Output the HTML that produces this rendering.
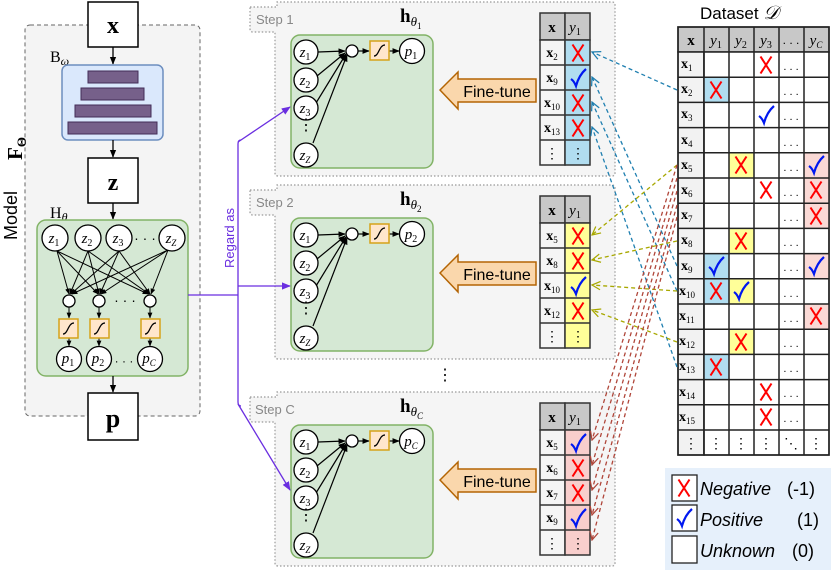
<!DOCTYPE html>
<html><head><meta charset="utf-8"><style>
html,body{margin:0;padding:0;background:#fff;}
svg{display:block;font-family:"Liberation Sans",sans-serif;}
.m{font-family:"Liberation Serif",serif;font-style:italic;}
.b{font-family:"Liberation Serif",serif;font-weight:bold;}
</style></head><body>
<svg width="831" height="570" viewBox="0 0 831 570" xmlns="http://www.w3.org/2000/svg">
<defs>
<marker id="ah" viewBox="0 0 10 10" refX="9" refY="5" markerWidth="6" markerHeight="6" orient="auto"><path d="M0,1 L10,5 L0,9 Z" fill="#000"/></marker>
<marker id="ap" viewBox="0 0 10 10" refX="9" refY="5" markerWidth="7" markerHeight="7" orient="auto"><path d="M0,1 L10,5 L0,9 Z" fill="#6a2ee0"/></marker>
<marker id="ob" viewBox="0 0 10 10" refX="9" refY="5" markerWidth="8" markerHeight="8" orient="auto"><path d="M1,1 L9,5 L1,9" fill="none" stroke="#1f7fb0" stroke-width="1.2"/></marker>
<marker id="oy" viewBox="0 0 10 10" refX="9" refY="5" markerWidth="8" markerHeight="8" orient="auto"><path d="M1,1 L9,5 L1,9" fill="none" stroke="#a8a800" stroke-width="1.2"/></marker>
<marker id="or" viewBox="0 0 10 10" refX="9" refY="5" markerWidth="8" markerHeight="8" orient="auto"><path d="M1,1 L9,5 L1,9" fill="none" stroke="#b0463a" stroke-width="1.2"/></marker>
<symbol id="X" viewBox="-8 -10 16 20" overflow="visible"><path d="M-5.5,-8.5 Q0,0 5.5,8.5 M5.5,-8.5 Q0,0 -5.5,8.5" stroke="#f00" stroke-width="2" fill="none"/></symbol>
<symbol id="V" viewBox="-8 -10 16 20" overflow="visible"><path d="M-7,1 Q-4,3 -2,8 Q1,-3 8,-9" stroke="#0018f0" stroke-width="2.2" fill="none"/></symbol>
<g id="sig"><rect x="0" y="0" width="19" height="19" fill="#ffe6cc" stroke="#d6a21a" stroke-width="1.5"/><path d="M4,15 C9,15 9,4 15,4" stroke="#000" stroke-width="1.3" fill="none"/></g>
<g id="net">
<rect x="291" y="35" width="142" height="133" rx="9" fill="#d5e8d4" stroke="#82b366" stroke-width="1.5"/>
<g stroke="#000" stroke-width="1.2" fill="none">
<line x1="318" y1="52" x2="345" y2="51" marker-end="url(#ah)"/>
<line x1="317" y1="76" x2="345" y2="53" marker-end="url(#ah)"/>
<line x1="316" y1="103" x2="346" y2="54" marker-end="url(#ah)"/>
<line x1="313" y1="143" x2="347" y2="55" marker-end="url(#ah)"/>
<line x1="358" y1="51" x2="369" y2="51" marker-end="url(#ah)"/>
<line x1="389" y1="51" x2="399" y2="51" marker-end="url(#ah)"/>
</g>
<g fill="#fff" stroke="#000" stroke-width="1.3">
<circle cx="306" cy="52" r="12"/><circle cx="306" cy="80" r="12"/><circle cx="306" cy="108" r="12"/><circle cx="306" cy="155" r="12"/>
<circle cx="352" cy="51" r="6"/><circle cx="412" cy="51" r="12.5"/>
</g>
<use href="#sig" x="370" y="41"/>
<g class="m" font-size="15" text-anchor="middle">
<text x="305" y="57">z<tspan font-size="10" font-style="normal" dy="3">1</tspan></text>
<text x="305" y="85">z<tspan font-size="10" font-style="normal" dy="3">2</tspan></text>
<text x="305" y="113">z<tspan font-size="10" font-style="normal" dy="3">3</tspan></text>
<text x="305" y="160">z<tspan font-size="9" dy="3">Z</tspan></text>
</g>
<text x="306" y="130" font-size="16" text-anchor="middle">⋮</text>
<path d="M440,90 L458,72 L458,79 L536,79 L536,102 L458,102 L458,109 Z" fill="#fad7ac" stroke="#b46504" stroke-width="1.5"/>
<text x="497" y="97" font-size="16" text-anchor="middle">Fine-tune</text>
<rect x="540" y="13" width="25" height="27" fill="#c8c8c8" stroke="#333" stroke-width="1.5"/>
<rect x="565" y="13" width="25" height="27" fill="#c8c8c8" stroke="#333" stroke-width="1.5"/>
<text x="552" y="32" class="b" font-size="15" text-anchor="middle">x</text>
<text x="575" y="32" class="m" font-size="15" text-anchor="middle">y<tspan font-size="10" font-style="normal" dy="3">1</tspan></text>
</g>
<g id="stepbox">
<path d="M250,7 L277,7 L277,2 L612,2 Q615,2 615,5 L615,173 Q615,176 612,176 L278,176 Q275,176 275,173 L275,32 L253,32 Q250,32 250,29 Z" fill="#f5f5f5" stroke="#999" stroke-width="1.2" stroke-dasharray="1.5,2"/>
</g>
</defs>

<!-- Left panel -->
<rect x="25" y="25" width="175" height="391" rx="5" fill="#f4f4f4" stroke="#666" stroke-width="1" stroke-dasharray="4,3"/>
<text transform="translate(17,240) rotate(-90)" font-size="18">Model</text>
<text transform="translate(22,160) rotate(-90)" class="b" font-size="21">F<tspan font-size="13" dy="4">Θ</tspan></text>
<rect x="88" y="2" width="50" height="45" fill="#fff" stroke="#000" stroke-width="1.5"/>
<text x="113" y="33" class="b" font-size="24" text-anchor="middle">x</text>
<line x1="113" y1="47" x2="113" y2="64" stroke="#000" stroke-width="1.3" marker-end="url(#ah)"/>
<text x="50" y="62" font-family="Liberation Serif,serif" font-size="16">B<tspan class="m" font-size="12" dy="3">ω</tspan></text>
<rect x="62" y="65" width="101" height="75" rx="6" fill="#dae8fc" stroke="#6c8ebf" stroke-width="1.5"/>
<g fill="#76608a" stroke="#432d57" stroke-width="1">
<rect x="88" y="71" width="50" height="12"/><rect x="81" y="88" width="63" height="12"/><rect x="75" y="105" width="76" height="12"/><rect x="68" y="122" width="89" height="12"/>
</g>
<line x1="113" y1="140" x2="113" y2="157" stroke="#000" stroke-width="1.3" marker-end="url(#ah)"/>
<rect x="88" y="158" width="50" height="45" fill="#fff" stroke="#000" stroke-width="1.5"/>
<text x="113" y="190" class="b" font-size="24" text-anchor="middle">z</text>
<line x1="113" y1="203" x2="113" y2="219" stroke="#000" stroke-width="1.3" marker-end="url(#ah)"/>
<text x="50" y="218" font-family="Liberation Serif,serif" font-size="16">H<tspan class="m" font-size="12" dy="3">θ</tspan></text>
<rect x="37" y="220" width="151" height="156" rx="9" fill="#d5e8d4" stroke="#82b366" stroke-width="1.5"/>
<g stroke="#000" stroke-width="1" fill="none">
<line x1="57" y1="251" x2="69" y2="294" marker-end="url(#ah)"/><line x1="57" y1="251" x2="98" y2="294" marker-end="url(#ah)"/><line x1="57" y1="251" x2="148" y2="294" marker-end="url(#ah)"/>
<line x1="88" y1="251" x2="70" y2="294" marker-end="url(#ah)"/><line x1="88" y1="251" x2="99" y2="294" marker-end="url(#ah)"/><line x1="88" y1="251" x2="149" y2="294" marker-end="url(#ah)"/>
<line x1="119" y1="251" x2="71" y2="294" marker-end="url(#ah)"/><line x1="119" y1="251" x2="100" y2="294" marker-end="url(#ah)"/><line x1="119" y1="251" x2="150" y2="294" marker-end="url(#ah)"/>
<line x1="168" y1="250" x2="72" y2="294" marker-end="url(#ah)"/><line x1="168" y1="250" x2="101" y2="294" marker-end="url(#ah)"/><line x1="168" y1="250" x2="151" y2="294" marker-end="url(#ah)"/>
<line x1="69" y1="307" x2="69" y2="318" marker-end="url(#ah)"/><line x1="99" y1="307" x2="99" y2="318" marker-end="url(#ah)"/><line x1="150" y1="307" x2="150" y2="318" marker-end="url(#ah)"/>
<line x1="69" y1="336" x2="69" y2="346" marker-end="url(#ah)"/><line x1="99" y1="336" x2="99" y2="346" marker-end="url(#ah)"/><line x1="150" y1="336" x2="150" y2="346" marker-end="url(#ah)"/>
</g>
<g fill="#fff" stroke="#000" stroke-width="1.3">
<circle cx="55" cy="238" r="13"/><circle cx="88" cy="238" r="13"/><circle cx="119" cy="238" r="13"/><circle cx="172" cy="238" r="13"/>
<circle cx="69" cy="301" r="6"/><circle cx="99" cy="301" r="6"/><circle cx="150" cy="301" r="6"/>
<circle cx="69" cy="359" r="12.5"/><circle cx="99" cy="359" r="12.5"/><circle cx="150" cy="359" r="12.5"/>
</g>
<use href="#sig" x="59" y="319"/><use href="#sig" x="90" y="319"/><use href="#sig" x="141" y="319"/>
<g class="m" font-size="15" text-anchor="middle">
<text x="54" y="243">z<tspan font-size="10" font-style="normal" dy="3">1</tspan></text>
<text x="87" y="243">z<tspan font-size="10" font-style="normal" dy="3">2</tspan></text>
<text x="118" y="243">z<tspan font-size="10" font-style="normal" dy="3">3</tspan></text>
<text x="171" y="243">z<tspan font-size="9" dy="3">Z</tspan></text>
<text x="68" y="363">p<tspan font-size="10" font-style="normal" dy="3">1</tspan></text>
<text x="98" y="363">p<tspan font-size="10" font-style="normal" dy="3">2</tspan></text>
<text x="149" y="363">p<tspan font-size="9" dy="3">C</tspan></text>
</g>
<text x="145" y="243" font-size="14" text-anchor="middle">· · ·</text>
<text x="125" y="305" font-size="14" text-anchor="middle">· · ·</text>
<text x="124" y="365" font-size="12" text-anchor="middle">· · ·</text>
<line x1="113" y1="376" x2="113" y2="392" stroke="#000" stroke-width="1.3" marker-end="url(#ah)"/>
<rect x="88" y="393" width="50" height="47" fill="#fff" stroke="#000" stroke-width="1.5"/>
<text x="113" y="427" class="b" font-size="26" text-anchor="middle">p</text>

<!-- Steps -->
<use href="#stepbox"/>
<use href="#stepbox" y="183"/>
<use href="#stepbox" y="390"/>
<g font-size="13" fill="#888"><text x="256" y="24">Step 1</text><text x="256" y="207">Step 2</text><text x="255" y="414">Step C</text></g>
<use href="#net"/><use href="#net" y="183"/><use href="#net" y="390"/>

<!-- purple connector -->
<g stroke="#6a2ee0" stroke-width="1.3" fill="none">
<line x1="188" y1="295" x2="238" y2="295"/>
<path d="M241,140 Q238,140 238,144 L238,402 Q238,406 241,406"/>
<line x1="238" y1="142" x2="290" y2="107" marker-end="url(#ap)"/>
<line x1="238" y1="286" x2="290" y2="286" marker-end="url(#ap)"/>
<line x1="238" y1="404" x2="290" y2="490" marker-end="url(#ap)"/>
</g>
<text transform="translate(234,268) rotate(-90)" font-size="13" fill="#6a2ee0">Regard as</text>

<g font-family="Liberation Serif,serif" font-size="19" font-weight="bold">
<text x="400" y="22">h<tspan class="m" font-weight="normal" font-size="13" dy="4">θ</tspan><tspan font-size="9" font-weight="normal" dy="3">1</tspan></text>
<text x="400" y="205">h<tspan class="m" font-weight="normal" font-size="13" dy="4">θ</tspan><tspan font-size="9" font-weight="normal" dy="3">2</tspan></text>
<text x="400" y="412">h<tspan class="m" font-weight="normal" font-size="13" dy="4">θ</tspan><tspan class="m" font-size="9" font-weight="normal" dy="3">C</tspan></text>
</g>
<g class="m" font-size="15" text-anchor="middle">
<text x="411" y="56">p<tspan font-size="10" font-style="normal" dy="3">1</tspan></text>
<text x="411" y="239">p<tspan font-size="10" font-style="normal" dy="3">2</tspan></text>
<text x="411" y="446">p<tspan font-size="9" dy="3">C</tspan></text>
</g>
<text x="445" y="380" font-size="16" text-anchor="middle">⋮</text>

<!-- step tables rows -->
<g stroke="#333" stroke-width="1.5">
<g fill="#f5f5f5"><rect x="540" y="40" width="25" height="125"/><rect x="540" y="223" width="25" height="125"/><rect x="540" y="430" width="25" height="125"/></g>
<rect x="565" y="40" width="25" height="125" fill="#b1ddf0"/>
<rect x="565" y="223" width="25" height="125" fill="#ffff99"/>
<rect x="565" y="430" width="25" height="125" fill="#f8cecc"/>
<path d="M540,65H590M540,90H590M540,115H590M540,140H590 M540,248H590M540,273H590M540,298H590M540,323H590 M540,455H590M540,480H590M540,505H590M540,530H590" fill="none"/>
</g>
<g class="b" font-size="14" text-anchor="middle">
<text x="552" y="57">x<tspan font-size="9" font-weight="normal" dy="3">2</tspan></text>
<text x="552" y="82">x<tspan font-size="9" font-weight="normal" dy="3">9</tspan></text>
<text x="552" y="107">x<tspan font-size="9" font-weight="normal" dy="3">10</tspan></text>
<text x="552" y="132">x<tspan font-size="9" font-weight="normal" dy="3">13</tspan></text>
<text x="552" y="240">x<tspan font-size="9" font-weight="normal" dy="3">5</tspan></text>
<text x="552" y="265">x<tspan font-size="9" font-weight="normal" dy="3">8</tspan></text>
<text x="552" y="290">x<tspan font-size="9" font-weight="normal" dy="3">10</tspan></text>
<text x="552" y="315">x<tspan font-size="9" font-weight="normal" dy="3">12</tspan></text>
<text x="552" y="447">x<tspan font-size="9" font-weight="normal" dy="3">5</tspan></text>
<text x="552" y="472">x<tspan font-size="9" font-weight="normal" dy="3">6</tspan></text>
<text x="552" y="497">x<tspan font-size="9" font-weight="normal" dy="3">7</tspan></text>
<text x="552" y="522">x<tspan font-size="9" font-weight="normal" dy="3">9</tspan></text>
</g>
<g font-size="14" text-anchor="middle"><text x="552" y="158">⋮</text><text x="578" y="158">⋮</text><text x="552" y="341">⋮</text><text x="578" y="341">⋮</text><text x="552" y="548">⋮</text><text x="578" y="548">⋮</text></g>
<use href="#X" x="570" y="43" width="16" height="20"/><use href="#V" x="570" y="68" width="16" height="20"/><use href="#X" x="570" y="93" width="16" height="20"/><use href="#X" x="570" y="118" width="16" height="20"/>
<use href="#X" x="570" y="226" width="16" height="20"/><use href="#X" x="570" y="251" width="16" height="20"/><use href="#V" x="570" y="276" width="16" height="20"/><use href="#X" x="570" y="301" width="16" height="20"/>
<use href="#V" x="570" y="433" width="16" height="20"/><use href="#X" x="570" y="458" width="16" height="20"/><use href="#X" x="570" y="483" width="16" height="20"/><use href="#V" x="570" y="508" width="16" height="20"/>

<!-- Dataset -->
<text x="700" y="19" font-size="17">Dataset <tspan font-family="Liberation Serif,serif" font-style="italic" font-size="19">𝒟</tspan></text>
<g stroke="#222" stroke-width="1.5">
<rect x="678" y="27" width="151" height="25" fill="#c8c8c8"/>
<rect x="678" y="52" width="26" height="403" fill="#f2f2f2"/>
<rect x="704" y="52" width="125" height="403" fill="#fff"/>
</g>
<g stroke="none">
<rect x="704" y="77.2" width="25" height="25.2" fill="#b1ddf0"/>
<rect x="704" y="253.6" width="25" height="50.4" fill="#b1ddf0"/>
<rect x="704" y="354.4" width="25" height="25.2" fill="#b1ddf0"/>
<rect x="729" y="152.8" width="25" height="25.2" fill="#ffff99"/>
<rect x="729" y="228.4" width="25" height="25.2" fill="#ffff99"/>
<rect x="729" y="278.8" width="25" height="25.2" fill="#ffff99"/>
<rect x="729" y="329.2" width="25" height="25.2" fill="#ffff99"/>
<rect x="804" y="152.8" width="25" height="75.6" fill="#fad9d5"/>
<rect x="804" y="253.6" width="25" height="25.2" fill="#fad9d5"/>
<rect x="804" y="304" width="25" height="25.2" fill="#fad9d5"/>
</g>
<g stroke="#222" stroke-width="1.5" fill="none">
<path d="M704,27V455M729,27V455M754,27V455M779,27V455M804,27V455"/>
<path d="M678,77.2H829M678,102.4H829M678,127.6H829M678,152.8H829M678,178H829M678,203.2H829M678,228.4H829M678,253.6H829M678,278.8H829M678,304H829M678,329.2H829M678,354.4H829M678,379.6H829M678,404.8H829M678,430H829"/>
<rect x="678" y="27" width="151" height="428"/>
</g>
<g text-anchor="middle">
<text x="691" y="45" class="b" font-size="15">x</text>
<g class="m" font-size="15"><text x="716" y="45">y<tspan font-size="10" font-style="normal" dy="3">1</tspan></text><text x="741" y="45">y<tspan font-size="10" font-style="normal" dy="3">2</tspan></text><text x="766" y="45">y<tspan font-size="10" font-style="normal" dy="3">3</tspan></text><text x="816" y="45">y<tspan font-size="9" dy="3">C</tspan></text></g>
<text x="791" y="44" font-size="12">. . .</text>
</g>
<g class="b" font-size="14">
<text x="681" y="68">x<tspan font-size="9" font-weight="normal" dy="3">1</tspan></text>
<text x="681" y="93">x<tspan font-size="9" font-weight="normal" dy="3">2</tspan></text>
<text x="681" y="118">x<tspan font-size="9" font-weight="normal" dy="3">3</tspan></text>
<text x="681" y="144">x<tspan font-size="9" font-weight="normal" dy="3">4</tspan></text>
<text x="681" y="169">x<tspan font-size="9" font-weight="normal" dy="3">5</tspan></text>
<text x="681" y="194">x<tspan font-size="9" font-weight="normal" dy="3">6</tspan></text>
<text x="681" y="219">x<tspan font-size="9" font-weight="normal" dy="3">7</tspan></text>
<text x="681" y="244">x<tspan font-size="9" font-weight="normal" dy="3">8</tspan></text>
<text x="681" y="270">x<tspan font-size="9" font-weight="normal" dy="3">9</tspan></text>
<text x="679" y="295">x<tspan font-size="9" font-weight="normal" dy="3">10</tspan></text>
<text x="679" y="320">x<tspan font-size="9" font-weight="normal" dy="3">11</tspan></text>
<text x="679" y="345">x<tspan font-size="9" font-weight="normal" dy="3">12</tspan></text>
<text x="679" y="370">x<tspan font-size="9" font-weight="normal" dy="3">13</tspan></text>
<text x="679" y="396">x<tspan font-size="9" font-weight="normal" dy="3">14</tspan></text>
<text x="679" y="421">x<tspan font-size="9" font-weight="normal" dy="3">15</tspan></text>
</g>
<g font-size="11" text-anchor="middle">
<text x="791" y="70">. . .</text><text x="791" y="95">. . .</text><text x="791" y="120">. . .</text><text x="791" y="146">. . .</text><text x="791" y="171">. . .</text><text x="791" y="196">. . .</text><text x="791" y="221">. . .</text><text x="791" y="246">. . .</text><text x="791" y="271">. . .</text><text x="791" y="297">. . .</text><text x="791" y="322">. . .</text><text x="791" y="347">. . .</text><text x="791" y="372">. . .</text><text x="791" y="397">. . .</text><text x="791" y="422">. . .</text>
</g>
<g font-size="14" text-anchor="middle"><text x="691" y="448">⋮</text><text x="716" y="448">⋮</text><text x="741" y="448">⋮</text><text x="766" y="448">⋮</text><text x="791" y="448">⋱</text><text x="816" y="448">⋮</text></g>
<use href="#X" x="758" y="55" width="16" height="20"/>
<use href="#X" x="708" y="80" width="16" height="20"/>
<use href="#V" x="758" y="105" width="16" height="20"/>
<use href="#X" x="733" y="155" width="16" height="20"/><use href="#V" x="808" y="155" width="16" height="20"/>
<use href="#X" x="758" y="180" width="16" height="20"/><use href="#X" x="808" y="180" width="16" height="20"/>
<use href="#X" x="808" y="206" width="16" height="20"/>
<use href="#X" x="733" y="231" width="16" height="20"/>
<use href="#V" x="708" y="256" width="16" height="20"/><use href="#V" x="808" y="256" width="16" height="20"/>
<use href="#X" x="708" y="281" width="16" height="20"/><use href="#V" x="733" y="281" width="16" height="20"/>
<use href="#X" x="808" y="306" width="16" height="20"/>
<use href="#X" x="733" y="332" width="16" height="20"/>
<use href="#X" x="708" y="357" width="16" height="20"/>
<use href="#X" x="758" y="382" width="16" height="20"/>
<use href="#X" x="758" y="407" width="16" height="20"/>

<!-- dashed connectors -->
<g fill="none" stroke-width="1.3" stroke-dasharray="4,3">
<g stroke="#1f7fb0">
<line x1="677" y1="90" x2="592" y2="52" marker-end="url(#ob)"/>
<line x1="677" y1="266" x2="592" y2="77" marker-end="url(#ob)"/>
<line x1="677" y1="291" x2="592" y2="102" marker-end="url(#ob)"/>
<line x1="677" y1="367" x2="592" y2="127" marker-end="url(#ob)"/>
</g>
<g stroke="#a8a800">
<line x1="677" y1="165" x2="592" y2="235" marker-end="url(#oy)"/>
<line x1="677" y1="241" x2="592" y2="260" marker-end="url(#oy)"/>
<line x1="677" y1="291" x2="592" y2="285" marker-end="url(#oy)"/>
<line x1="677" y1="342" x2="592" y2="310" marker-end="url(#oy)"/>
</g>
<g stroke="#b0463a">
<line x1="677" y1="165" x2="592" y2="440" marker-end="url(#or)"/>
<line x1="677" y1="178" x2="592" y2="465" marker-end="url(#or)"/>
<line x1="677" y1="191" x2="592" y2="490" marker-end="url(#or)"/>
<line x1="677" y1="205" x2="592" y2="515" marker-end="url(#or)"/>
<line x1="677" y1="217" x2="592" y2="540" marker-end="url(#or)"/>
</g>
</g>

<!-- legend -->
<rect x="665" y="468" width="166" height="102" fill="#e6f0fb"/>
<g fill="#fff" stroke="#222" stroke-width="1.3"><rect x="672" y="475" width="25" height="26"/><rect x="672" y="505" width="25" height="26"/><rect x="672" y="536" width="25" height="27"/></g>
<use href="#X" x="676" y="478" width="16" height="20"/><use href="#V" x="676" y="508" width="16" height="20"/>
<g font-size="18"><text x="700" y="495" font-style="italic">Negative</text><text x="787" y="495">(-1)</text>
<text x="700" y="526" font-style="italic">Positive</text><text x="797" y="526">(1)</text>
<text x="700" y="557" font-style="italic">Unknown</text><text x="792" y="557">(0)</text></g>
</svg>
</body></html>
